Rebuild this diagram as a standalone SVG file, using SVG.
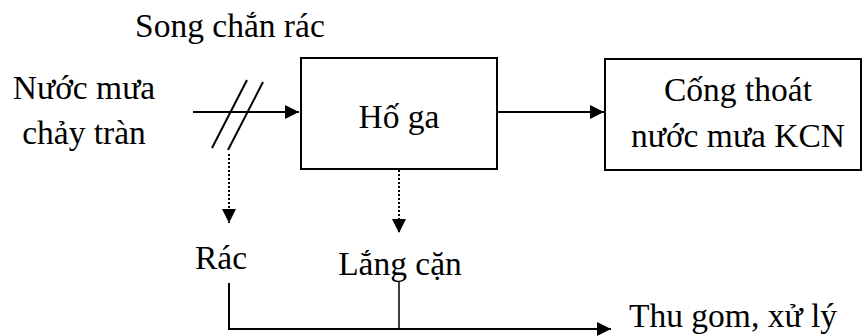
<svg xmlns="http://www.w3.org/2000/svg" width="863" height="336" viewBox="0 0 863 336">
<defs>
<style>
text{font-family:"Liberation Serif","Times New Roman",serif;font-size:33.5px;fill:#000}
.box{fill:#fff;stroke:#000;stroke-width:2}
.ln{fill:none;stroke:#000;stroke-width:2}
.thin{fill:none;stroke:#000;stroke-width:1.5}
.dot{fill:none;stroke:#000;stroke-width:2;stroke-dasharray:2 2}
.c{text-anchor:middle}
</style>
<marker id="ah" viewBox="0 0 14 14" refX="14" refY="7" markerWidth="14" markerHeight="14" markerUnits="userSpaceOnUse" orient="auto">
<path d="M0,0 L14,7 L0,14 Z" fill="#000"/>
</marker>
</defs>
<g id="connectors">
<line class="ln" x1="193" y1="112" x2="299" y2="112" marker-end="url(#ah)"/>
<line class="ln" x1="247" y1="80" x2="212" y2="148"/>
<line class="ln" x1="263" y1="82" x2="228" y2="150"/>
<line class="ln" x1="497" y1="112" x2="604" y2="112" marker-end="url(#ah)"/>
<line class="dot" x1="229" y1="154" x2="229" y2="223" marker-end="url(#ah)"/>
<line class="dot" x1="399" y1="170" x2="399" y2="233" marker-end="url(#ah)"/>
<polyline class="ln" points="229,283 229,329 611,329" marker-end="url(#ah)"/>
<line class="thin" x1="399" y1="281" x2="399" y2="329"/>
</g>
<g id="song-chan-rac"><text x="135" y="37">Song chắn rác</text></g>
<g id="nuoc-mua"><text class="c" x="84" y="99">Nước mưa</text><text class="c" x="84" y="144">chảy tràn</text></g>
<g id="ho-ga"><rect class="box" x="301" y="58" width="196" height="111"/><text class="c" x="399" y="128">Hố ga</text></g>
<g id="cong-thoat"><rect class="box" x="605" y="59" width="256" height="111"/><text class="c" x="738" y="101">Cống thoát</text><text class="c" x="738" y="147">nước mưa KCN</text></g>
<g id="rac"><text class="c" x="221" y="269">Rác</text></g>
<g id="lang-can"><text class="c" x="400" y="275">Lắng cặn</text></g>
<g id="thu-gom"><text x="629" y="327">Thu gom, xử lý</text></g>
</svg>
